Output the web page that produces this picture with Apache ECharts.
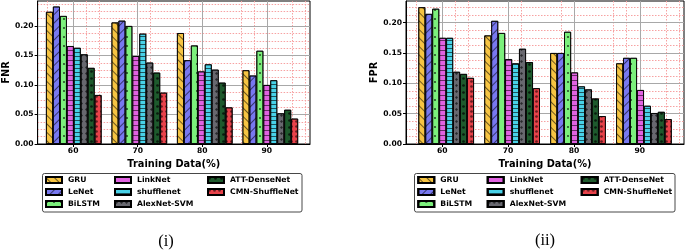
<!DOCTYPE html>
<html><head><meta charset="utf-8">
<script src="https://cdn.jsdelivr.net/npm/echarts@6/dist/echarts.min.js"></script>
<style>html,body{margin:0;padding:0;background:#fff}#c{width:685px;height:251px}</style>
</head><body><div id="c"></div>
<script>
// ---------- data ----------
const categories = ['60', '70', '80', '90'];
const xTickValues = [60, 70, 80, 90];
const yTickValues = [0, 0.05, 0.10, 0.15, 0.20];
const xMinorValues = [56, 62, 64, 70, 72, 78, 80, 86, 88, 94, 96];
const yMinorValues = [0.0125, 0.025, 0.0375, 0.0625, 0.075, 0.0875, 0.1125, 0.125, 0.1375, 0.1625, 0.175, 0.1875, 0.2125, 0.225, 0.2375];
const seriesNames = ['GRU', 'LeNet', 'BiLSTM', 'LinkNet', 'shufflenet', 'AlexNet-SVM', 'ATT-DenseNet', 'CMN-ShuffleNet'];

const fnrGRU        = [0.224, 0.206, 0.188, 0.125];
const fnrLeNet      = [0.233, 0.209, 0.142, 0.116];
const fnrBiLSTM     = [0.217, 0.200, 0.167, 0.158];
const fnrLinkNet    = [0.166, 0.149, 0.123, 0.100];
const fnrShuffle    = [0.163, 0.187, 0.135, 0.108];
const fnrAlexNet    = [0.152, 0.138, 0.126, 0.052];
const fnrATT        = [0.129, 0.121, 0.104, 0.058];
const fnrCMN        = [0.083, 0.087, 0.062, 0.043];

const fprGRU        = [0.2255, 0.179, 0.150, 0.133];
const fprLeNet      = [0.2145, 0.203, 0.150, 0.142];
const fprBiLSTM     = [0.223, 0.183, 0.185, 0.142];
const fprLinkNet    = [0.175, 0.140, 0.118, 0.089];
const fprShuffle    = [0.175, 0.133, 0.095, 0.063];
const fprAlexNet    = [0.119, 0.157, 0.090, 0.051];
const fprATT        = [0.1155, 0.135, 0.075, 0.053];
const fprCMN        = [0.109, 0.092, 0.046, 0.041];

const fnrData = [fnrGRU, fnrLeNet, fnrBiLSTM, fnrLinkNet, fnrShuffle, fnrAlexNet, fnrATT, fnrCMN];
const fprData = [fprGRU, fprLeNet, fprBiLSTM, fprLinkNet, fprShuffle, fprAlexNet, fprATT, fprCMN];

// ---------- styles ----------
const colors = ['#F6C443', '#7878F0', '#7CF07C', '#E062E0', '#48D2E8', '#68686F', '#1E5A2D', '#E8424A'];
const dk = 'rgba(0,0,0,0.55)';
const decals = [
  {symbol: 'rect', color: dk, dashArrayX: [1, 0], dashArrayY: [1, 5], rotation: Math.PI / 4},
  {symbol: 'rect', color: dk, dashArrayX: [1, 0], dashArrayY: [1, 5], rotation: -Math.PI / 4},
  {symbol: 'circle', color: 'rgba(0,0,0,0.8)', symbolSize: 0.9, dashArrayX: [[2, 5]], dashArrayY: [2, 7]},
  {symbol: 'rect', color: dk, dashArrayX: [1, 0], dashArrayY: [1, 4], rotation: 0},
  {symbol: 'rect', color: 'rgba(0,0,0,0.6)', dashArrayX: [1, 0], dashArrayY: [1, 2.5], rotation: 0},
  {symbol: 'diamond', color: 'rgba(0,0,0,0.6)', symbolSize: 1, dashArrayX: [[3, 2]], dashArrayY: [3, 3]},
  {symbol: 'circle', color: 'rgba(0,0,0,0.7)', symbolSize: 0.9, dashArrayX: [[3, 3]], dashArrayY: [3, 4]},
  {symbol: 'circle', color: 'rgba(0,0,0,0.55)', symbolSize: 0.9, dashArrayX: [[2.5, 1.5]], dashArrayY: [2.5, 1.5]}
];
const FONT = 'DejaVu Sans';
const AX = '#000';

function buildChart(idx, frame, bars, yMax, yName, yNameGap, data) {
  const g0 = idx * 2, g1 = idx * 2 + 1;
  const grids = [
    {left: frame.left, top: 1, width: frame.width, height: 143, show: true, borderColor: '#000', borderWidth: 1, backgroundColor: 'transparent'},
    {left: bars.left, top: 1, width: bars.width, height: 143}
  ];
  const xAxes = [
    {type: 'value', gridIndex: g0, min: 54.5, max: 96.7, position: 'bottom',
     axisLine: {show: true, lineStyle: {color: AX, width: 1}},
     axisTick: {show: true, length: 3, lineStyle: {color: AX}, customValues: xTickValues},
     axisLabel: {show: true, margin: 3, fontFamily: FONT, fontWeight: 'bold', fontSize: 7.6, color: '#000', customValues: xTickValues},
     splitLine: {show: true, lineStyle: {color: '#a8a8a8', width: 1}},
     name: 'Training Data(%)', nameLocation: 'middle', nameGap: 12,
     nameTextStyle: {fontFamily: FONT, fontWeight: 'bold', fontSize: 9.8, color: '#000'}, z: 1},
    {type: 'value', gridIndex: g0, min: 54.5, max: 96.7, position: 'top',
     axisLine: {show: false}, axisTick: {show: false, customValues: xMinorValues},
     axisLabel: {show: false, customValues: xMinorValues},
     splitLine: {show: true, lineStyle: {color: '#f7a2a2', width: 1, type: [1.5, 1.5]}}, z: 0},
    {type: 'category', gridIndex: g1, data: categories, show: false}
  ];
  const yAxes = [
    {type: 'value', gridIndex: g0, min: 0, max: yMax, position: 'left',
     axisLine: {show: true, lineStyle: {color: AX, width: 1}},
     axisTick: {show: true, length: 3, lineStyle: {color: AX}, customValues: yTickValues},
     axisLabel: {show: true, margin: 4, fontFamily: FONT, fontWeight: 'bold', fontSize: 7.6, color: '#000',
                 customValues: yTickValues, formatter: v => v.toFixed(2)},
     splitLine: {show: true, lineStyle: {color: '#a8a8a8', width: 1}},
     name: yName, nameLocation: 'middle', nameGap: yNameGap, nameRotate: 90,
     nameTextStyle: {fontFamily: FONT, fontWeight: 'bold', fontSize: 9.8, color: '#000'}, z: 1},
    {type: 'value', gridIndex: g0, min: 0, max: yMax, position: 'right',
     axisLine: {show: false}, axisTick: {show: false, customValues: yMinorValues},
     axisLabel: {show: false, customValues: yMinorValues},
     splitLine: {show: true, lineStyle: {color: '#f7a2a2', width: 1, type: [1.5, 1.5]}}, z: 0},
    {type: 'value', gridIndex: g1, min: 0, max: yMax, show: false}
  ];
  const series = seriesNames.map((name, i) => ({
    type: 'bar', name, data: data[i],
    xAxisIndex: idx * 3 + 2, yAxisIndex: idx * 3 + 2,
    barWidth: 6.95, barGap: '0%',
    itemStyle: {color: colors[i], borderColor: '#000', borderWidth: 0.8, decal: decals[i]},
    emphasis: {disabled: true}, animation: false, z: 3
  }));
  return {grids, xAxes, yAxes, series};
}

const left = buildChart(0, {left: 33, width: 277}, {left: 41.05, width: 262}, 0.2424, 'FNR', 21, fnrData);
const right = buildChart(1, {left: 406, width: 278}, {left: 413.2, width: 263.7}, 0.2358, 'FPR', 24, fprData);

function legendCol(x, names) {
  return {orient: 'vertical', left: x, top: 174, data: names, icon: 'rect', itemWidth: 16, itemHeight: 6,
          itemGap: 0, padding: 0, selectedMode: false,
          textStyle: {fontFamily: FONT, fontWeight: 'bold', fontSize: 7.7, lineHeight: 12, color: '#000', padding: [0, 0, 0, 1]}};
}
const cols = [seriesNames.slice(0, 3), seriesNames.slice(3, 6), seriesNames.slice(6, 8)];
const legends = [
  legendCol(45, cols[0]), legendCol(114, cols[1]), legendCol(207, cols[2]),
  legendCol(417.3, cols[0]), legendCol(486.7, cols[1]), legendCol(580.7, cols[2])
];

const option = {
  animation: false,
  backgroundColor: '#fff',
  grid: [...left.grids, ...right.grids],
  xAxis: [...left.xAxes, ...right.xAxes],
  yAxis: [...left.yAxes, ...right.yAxes],
  series: [...left.series, ...right.series],
  legend: legends,
  graphic: [
    {type: 'rect', z: 1, shape: {x: 42.5, y: 173.5, width: 259.5, height: 38.5, r: 2}, style: {fill: '#fff', stroke: '#333', lineWidth: 0.9}},
    {type: 'rect', z: 1, shape: {x: 414.5, y: 173.5, width: 260.5, height: 38.5, r: 2}, style: {fill: '#fff', stroke: '#333', lineWidth: 0.9}},
    {type: 'text', z: 5, x: 166, y: 241.5, style: {text: '(i)', font: '16.5px "Liberation Serif"', textAlign: 'center', textVerticalAlign: 'middle', fill: '#000'}},
    {type: 'text', z: 5, x: 545, y: 241, style: {text: '(ii)', font: '16.5px "Liberation Serif"', textAlign: 'center', textVerticalAlign: 'middle', fill: '#000'}}
  ]
};

const chart = echarts.init(document.getElementById('c'), null, {renderer: 'canvas'});
chart.setOption(option);
</script>
</body></html>
